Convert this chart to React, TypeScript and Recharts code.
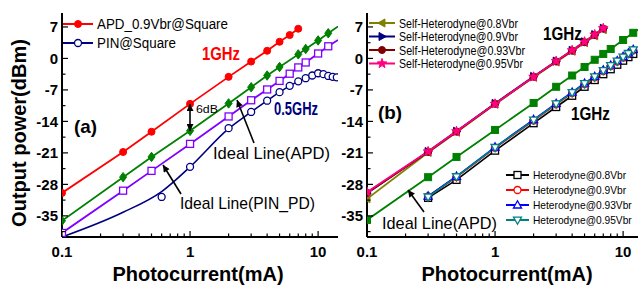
import React from "react";
import { LineChart, Line, XAxis, YAxis } from "recharts";

const FONT = "'Liberation Sans', Arial, Helvetica, sans-serif";

// axes
const xTicks = [0.1, 0.2, 0.3, 0.4, 0.5, 0.6, 0.7, 0.8, 0.9, 1, 2, 3, 4, 5, 6, 7, 8, 9, 10];
const xMajor = [0.1, 1, 10];
const yTicks = [-38.5, -35, -31.5, -28, -24.5, -21, -17.5, -14, -10.5, -7, -3.5, 0, 3.5, 7];
const yMajor = [-35, -28, -21, -14, -7, 0, 7];
const xDomain = [0.1, 14.3];
const yDomain = [-39.7, 10.1];

// panel (a)
const apdX = [0.1, 0.3, 0.5, 1, 2, 3, 4, 5, 6, 7];
const apdY = [-29.9, -20.8, -16.3, -10.1, -4.1, -0.7, 1.7, 3.7, 5.2, 6.6];
const idealApdAX = [0.1, 0.3, 0.5, 1, 2, 3, 4, 5, 7, 8, 10, 12, 14.3];
const idealApdAY = [-36.1, -26.4, -21.9, -16.1, -10.0, -6.4, -3.8, -1.9, 0.9, 2.1, 4.0, 5.6, 7.1];
const idealPinX = [0.1, 0.3, 0.5, 1, 2, 3, 4, 5, 6, 7, 8, 10, 12, 14.3];
const idealPinY = [-38.8, -29.4, -25.0, -19.0, -12.9, -9.3, -6.9, -5.0, -3.4, -2.0, -0.9, 1.1, 2.7, 4.1];
const pinDotX = [0.6, 1, 2, 3, 4, 5, 6, 7, 8, 9, 10, 11, 12, 13, 14];
const pinDotY = [-30.8, -24.1, -15.5, -11.9, -9.4, -7.5, -6.1, -5.1, -4.4, -3.8, -3.3, -3.5, -3.9, -4.1, -4.2];
const pinFitX = [0.1, 0.3, 0.6, 1, 2, 3, 4, 5, 6, 7, 8, 9, 10, 11, 12, 13, 14.3];
const pinFitY = [-39.7, -34.2, -29.6, -24.1, -15.6, -11.9, -9.4, -7.5, -6.1, -5.1, -4.4, -3.8, -3.3, -3.5, -3.9, -4.1, -4.2];

// panel (b)
const selfX = [0.1, 0.3, 0.5, 1, 2, 3, 4, 5, 6, 7];
const self08 = [-31.2, -20.9, -16.4, -10.2, -4.2, -0.8, 1.6, 3.5, 5.0, 6.4];
const self09 = [-30.0, -20.7, -16.2, -10.0, -4.0, -0.6, 1.8, 3.7, 5.3, 6.7];
const self093 = [-29.9, -20.8, -16.3, -10.1, -4.1, -0.7, 1.7, 3.6, 5.2, 6.6];
const self095 = [-29.7, -20.7, -16.2, -10.1, -4.1, -0.6, 1.8, 3.7, 5.3, 6.7];
const idealApdBX = [0.1, 0.3, 0.5, 1, 2, 3, 4, 5, 6, 7, 8, 10, 12, 14.3];
const idealApdBY = [-35.9, -26.4, -21.9, -15.9, -9.9, -6.3, -3.8, -1.9, -0.3, 1.0, 2.1, 4.1, 5.7, 7.1];
const hetX = [0.3, 0.5, 1, 2, 3, 4, 5, 6, 7, 8, 9, 10, 11, 12];
const het08 = [-31.0, -27.0, -20.5, -14.4, -10.8, -8.3, -6.3, -4.8, -3.5, -2.4, -1.4, -0.5, 0.3, 1.0];
const het09 = [-30.7, -26.4, -19.9, -13.8, -10.2, -7.7, -5.7, -4.2, -2.8, -1.7, -0.7, 0.2, 1.0, 1.8];
const het093 = [-30.6, -26.2, -19.7, -13.6, -10.0, -7.5, -5.5, -4.0, -2.6, -1.5, -0.5, 0.4, 1.2, 2.0];
const het095 = [-30.8, -26.3, -19.8, -13.7, -10.1, -7.6, -5.6, -4.1, -2.7, -1.6, -0.6, 0.3, 1.1, 1.9];

const zip = (xs: number[], ys: number[]) => xs.map((x, i) => ({ x, y: ys[i] }));

function Mk({ cx, cy, shape, color, open = false, s = 3.5 }: any) {
  const c = { fill: open ? "#fff" : color, stroke: color, strokeWidth: open ? 1.3 : 1 };
  switch (shape) {
    case "circle":
      return <circle cx={cx} cy={cy} r={s} {...c} />;
    case "square":
      return <rect x={cx - s} y={cy - s} width={2 * s} height={2 * s} {...c} />;
    case "diamond":
      return <polygon points={`${cx},${cy - s * 1.35} ${cx + s},${cy} ${cx},${cy + s * 1.35} ${cx - s},${cy}`} {...c} />;
    case "up":
      return <polygon points={`${cx},${cy - s * 1.2} ${cx + s * 1.15},${cy + s * 0.85} ${cx - s * 1.15},${cy + s * 0.85}`} {...c} />;
    case "down":
      return <polygon points={`${cx},${cy + s * 1.2} ${cx + s * 1.15},${cy - s * 0.85} ${cx - s * 1.15},${cy - s * 0.85}`} {...c} />;
    case "left":
      return <polygon points={`${cx - s * 1.2},${cy} ${cx + s * 0.85},${cy - s * 1.15} ${cx + s * 0.85},${cy + s * 1.15}`} {...c} />;
    case "right":
      return <polygon points={`${cx + s * 1.2},${cy} ${cx - s * 0.85},${cy - s * 1.15} ${cx - s * 0.85},${cy + s * 1.15}`} {...c} />;
    case "star": {
      const p: string[] = [];
      for (let k = 0; k < 10; k++) {
        const r = k % 2 === 0 ? s * 1.45 : s * 0.6;
        const a = -Math.PI / 2 + (k * Math.PI) / 5;
        p.push(`${cx + r * Math.cos(a)},${cy + r * Math.sin(a)}`);
      }
      return <polygon points={p.join(" ")} {...c} />;
    }
    default:
      return null;
  }
}

// dot renderer; only the first `n` points get a marker
const dotOf = (shape: string, color: string, open = false, n = 999) => (p: any) =>
  p.index < n ? <Mk key={`d${p.index}`} cx={p.cx} cy={p.cy} shape={shape} color={color} open={open} /> : <g key={`d${p.index}`} />;

const isIn = (arr: number[], v: number) => arr.some((m) => Math.abs(m - v) < 1e-6);
const tickText = { fontFamily: FONT, fontWeight: 700, fontSize: 15, fill: "#000" };

const BottomTick = (p: any) => {
  const major = isIn(xMajor, p.payload.value);
  return (
    <g>
      <line x1={p.x} x2={p.x} y1={p.y} y2={p.y - (major ? 6 : 3.5)} stroke="#000" strokeWidth={1.2} />
      {major && (
        <text x={p.x} y={p.y + 20} textAnchor="middle" {...tickText}>
          {p.payload.value}
        </text>
      )}
    </g>
  );
};
const TopTick = (p: any) => {
  const major = isIn(xMajor, p.payload.value);
  return <line x1={p.x} x2={p.x} y1={p.y} y2={p.y + (major ? 6 : 3.5)} stroke="#000" strokeWidth={1.2} />;
};
const LeftTick = (p: any) => {
  const major = isIn(yMajor, p.payload.value);
  return (
    <g>
      <line x1={p.x} x2={p.x + (major ? 6 : 3.5)} y1={p.y} y2={p.y} stroke="#000" strokeWidth={1.2} />
      {major && (
        <text x={p.x - 4} y={p.y + 5.5} textAnchor="end" {...tickText}>
          {p.payload.value}
        </text>
      )}
    </g>
  );
};
const RightTick = (p: any) => {
  const major = isIn(yMajor, p.payload.value);
  return <line x1={p.x} x2={p.x - (major ? 6 : 3.5)} y1={p.y} y2={p.y} stroke="#000" strokeWidth={1.2} />;
};

const axisLine = { stroke: "#000", strokeWidth: 2 };
const common = { allowDataOverflow: true, interval: 0 as const, tickSize: 0, tickMargin: 0, tickLine: false, axisLine };

const axes = (leftWidth: number) => [
  <XAxis key="xb" xAxisId={0} dataKey="x" type="number" scale="log" domain={xDomain} ticks={xTicks} tick={BottomTick} height={48} {...common} />,
  <XAxis key="xt" xAxisId="t" orientation="top" dataKey="x" type="number" scale="log" domain={xDomain} ticks={xTicks} tick={TopTick} height={0} {...common} />,
  <YAxis key="yl" yAxisId={0} type="number" domain={yDomain} ticks={yTicks} tick={LeftTick} width={leftWidth} {...common} />,
  <YAxis key="yr" yAxisId="r" orientation="right" type="number" domain={yDomain} ticks={yTicks} tick={RightTick} width={0} {...common} />,
];

const lineProps = { dataKey: "y", isAnimationActive: false, activeDot: false as const, type: "linear" as const };

const txt = { fontFamily: FONT, fill: "#000" };

function Arrowline({ x1, y1, x2, y2, both = false }: any) {
  return (
    <line x1={x1} y1={y1} x2={x2} y2={y2} stroke="#000" strokeWidth={1.6}
      markerEnd="url(#ah)" markerStart={both ? "url(#ah)" : undefined} />
  );
}

function LegendRow({ x0, x1, y, shape, color, open, label, w, size }: any) {
  const fit = w ? { textLength: w, lengthAdjust: "spacingAndGlyphs" } : {};
  return (
    <g>
      <line x1={x0} x2={x1} y1={y} y2={y} stroke={color} strokeWidth={2} />
      <Mk cx={(x0 + x1) / 2} cy={y} shape={shape} color={color} open={open} />
      <text x={x1 + 4} y={y + size * 0.36} fontSize={size} {...fit} {...txt}>
        {label}
      </text>
    </g>
  );
}

export default function App() {
  return (
    <div style={{ position: "absolute", left: 0, top: 0, width: 638, height: 285, overflow: "hidden", background: "#fff" }}>
      <div style={{ position: "absolute", left: 0, top: 0 }}>
        <LineChart width={340} height={285} margin={{ top: 13, right: 2, bottom: 0, left: 0 }}>
          {axes(62)}
          <Line {...lineProps} data={zip(pinFitX, pinFitY)} type="monotone" stroke="#000080" strokeWidth={1.6} dot={false} />
          <Line {...lineProps} data={zip(pinDotX, pinDotY)} stroke="none" dot={dotOf("circle", "#000080", true)} />
          <Line {...lineProps} data={zip(idealPinX, idealPinY)} stroke="#8000ff" strokeWidth={1.8} dot={dotOf("square", "#8000ff", true, 13)} />
          <Line {...lineProps} data={zip(idealApdAX, idealApdAY)} stroke="#008000" strokeWidth={1.8} dot={dotOf("diamond", "#008000", false, 12)} />
          <Line {...lineProps} data={zip(apdX, apdY)} stroke="#ff0000" strokeWidth={1.8} dot={dotOf("circle", "#ff0000")} />
        </LineChart>
      </div>
      <div style={{ position: "absolute", left: 339, top: 0 }}>
        <LineChart width={306} height={285} margin={{ top: 13, right: 2, bottom: 0, left: 0 }}>
          {axes(28)}
          <Line {...lineProps} data={zip(idealApdBX, idealApdBY)} stroke="#008000" strokeWidth={1.8} dot={dotOf("square", "#008000", false, 13)} />
          <Line {...lineProps} data={zip(hetX, het08)} stroke="#000000" strokeWidth={1.6} dot={dotOf("square", "#000000", true)} />
          <Line {...lineProps} data={zip(hetX, het09)} stroke="#ff0000" strokeWidth={1.6} dot={dotOf("circle", "#ff0000", true)} />
          <Line {...lineProps} data={zip(hetX, het093)} stroke="#0000ff" strokeWidth={1.6} dot={dotOf("up", "#0000ff", true)} />
          <Line {...lineProps} data={zip(hetX, het095)} stroke="#008080" strokeWidth={1.6} dot={dotOf("down", "#008080", true)} />
          <Line {...lineProps} data={zip(selfX, self08)} stroke="#808000" strokeWidth={1.8} dot={dotOf("left", "#808000")} />
          <Line {...lineProps} data={zip(selfX, self09)} stroke="#000080" strokeWidth={1.8} dot={dotOf("right", "#000080")} />
          <Line {...lineProps} data={zip(selfX, self093)} stroke="#800000" strokeWidth={1.8} dot={dotOf("circle", "#800000")} />
          <Line {...lineProps} data={zip(selfX, self095)} stroke="#ff0080" strokeWidth={1.8} dot={dotOf("star", "#ff0080")} />
        </LineChart>
      </div>

      <svg width={638} height={285} style={{ position: "absolute", left: 0, top: 0, pointerEvents: "none" }}>
        <defs>
          <marker id="ah" viewBox="0 0 10 10" refX={10} refY={5} markerWidth={8} markerHeight={7}
            markerUnits="userSpaceOnUse" orient="auto-start-reverse">
            <path d="M0,0 L10,5 L0,10 z" fill="#000" />
          </marker>
        </defs>

        {/* axis titles */}
        <text x={19} y={133} transform="rotate(-90 19 133)" textAnchor="middle" dominantBaseline="central"
          fontSize={20} fontWeight={700} {...txt}>Output power(dBm)</text>
        <text x={198} y={281} textAnchor="middle" fontSize={20} fontWeight={700} {...txt}>Photocurrent(mA)</text>
        <text x={507} y={281} textAnchor="middle" fontSize={20} fontWeight={700} {...txt}>Photocurrent(mA)</text>

        {/* legend (a) */}
        <LegendRow x0={63} x1={93} y={24} shape="circle" color="#ff0000" label="APD_0.9Vbr@Square" w={131} size={14} />
        <LegendRow x0={63} x1={93} y={43} shape="circle" color="#000080" open label="PIN@Square" w={79} size={14} />

        {/* legend (b) */}
        <LegendRow x0={369} x1={395} y={23} shape="left" color="#808000" label="Self-Heterodyne@0.8Vbr" w={119} size={12.5} />
        <LegendRow x0={369} x1={395} y={36.5} shape="right" color="#000080" label="Self-Heterodyne@0.9Vbr" w={119} size={12.5} />
        <LegendRow x0={369} x1={395} y={50} shape="circle" color="#800000" label="Self-Heterodyne@0.93Vbr" w={126} size={12.5} />
        <LegendRow x0={369} x1={395} y={63.5} shape="star" color="#ff0080" label="Self-Heterodyne@0.95Vbr" w={124} size={12.5} />
        <LegendRow x0={506} x1={529} y={175} shape="square" color="#000000" open label="Heterodyne@0.8Vbr" size={10.2} />
        <LegendRow x0={506} x1={529} y={190} shape="circle" color="#ff0000" open label="Heterodyne@0.9Vbr" size={10.2} />
        <LegendRow x0={506} x1={529} y={205} shape="up" color="#0000ff" open label="Heterodyne@0.93Vbr" size={10.2} />
        <LegendRow x0={506} x1={529} y={220} shape="down" color="#008080" open label="Heterodyne@0.95Vbr" size={10.2} />

        {/* annotations (a) */}
        <text x={202} y={59.5} fontSize={18} fontWeight={700} textLength={38} lengthAdjust="spacingAndGlyphs" {...txt} fill="#ff0000">1GHz</text>
        <text x={274} y={114.5} fontSize={18} fontWeight={700} textLength={44} lengthAdjust="spacingAndGlyphs" {...txt} fill="#000080">0.5GHz</text>
        <text x={74} y={133} fontSize={19} fontWeight={700} textLength={23} lengthAdjust="spacingAndGlyphs" {...txt}>(a)</text>
        <text x={196} y={113} fontSize={11} textLength={22} lengthAdjust="spacingAndGlyphs" {...txt}>6dB</text>
        <text x={213} y={159} fontSize={17} textLength={117} lengthAdjust="spacingAndGlyphs" {...txt}>Ideal Line(APD)</text>
        <text x={180} y={209} fontSize={17} textLength={135} lengthAdjust="spacingAndGlyphs" {...txt}>Ideal Line(PIN_PD)</text>
        <Arrowline x1={190} y1={104} x2={190} y2={131} both />
        <Arrowline x1={254} y1={143} x2={237} y2={100} />
        <Arrowline x1={181} y1={194} x2={163} y2={165} />

        {/* annotations (b) */}
        <text x={543} y={39.5} fontSize={18} fontWeight={700} textLength={39} lengthAdjust="spacingAndGlyphs" {...txt}>1GHz</text>
        <text x={571} y={119.5} fontSize={18} fontWeight={700} textLength={39} lengthAdjust="spacingAndGlyphs" {...txt}>1GHz</text>
        <text x={378} y={119} fontSize={19} fontWeight={700} textLength={24} lengthAdjust="spacingAndGlyphs" {...txt}>(b)</text>
        <text x={382} y={229} fontSize={17} textLength={115} lengthAdjust="spacingAndGlyphs" {...txt}>Ideal Line(APD)</text>
        <Arrowline x1={424} y1={212} x2={408} y2={190} />
      </svg>
    </div>
  );
}
